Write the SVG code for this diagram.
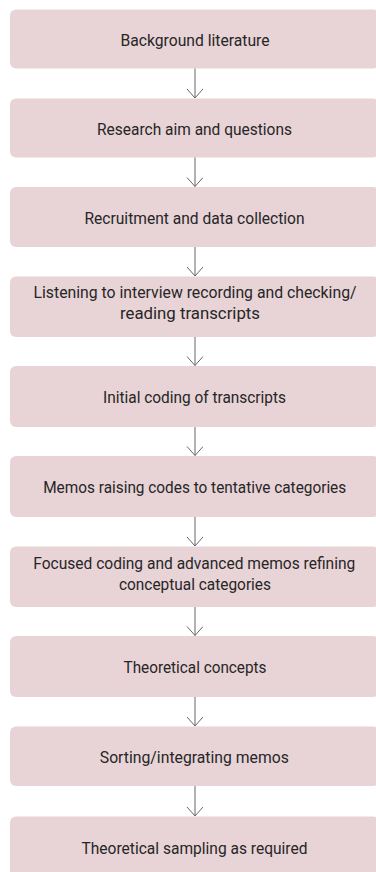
<svg xmlns="http://www.w3.org/2000/svg" width="376" height="872" viewBox="0 0 376 872">
<style>
.box{fill:#e8d3d6;}
.t{font-family:Roboto,"Liberation Sans",sans-serif;font-size:17px;fill:#262626;text-anchor:middle;}
.t.l{font-size:16px;}
.c{stroke:#666;stroke-width:1;fill:none;}
</style>
<defs>
<marker id="ah" markerWidth="20" markerHeight="20" refX="9.5" refY="8" orient="auto" markerUnits="userSpaceOnUse" viewBox="0 0 20 20">
<path d="M0.5,0 L9.5,8 L0.5,16" class="c"/>
</marker>
</defs>
<rect width="376" height="872" fill="#fff"/>
<g id="n1"><rect class="box" x="10" y="9.5" width="369" height="59" rx="6"/><text class="t" x="195" y="46" textLength="149" lengthAdjust="spacingAndGlyphs">Background literature</text></g>
<g id="n2"><rect class="box" x="10" y="98.5" width="369" height="59" rx="6"/><text class="t" x="194.5" y="135" textLength="195" lengthAdjust="spacingAndGlyphs">Research aim and questions</text></g>
<g id="n3"><rect class="box" x="10" y="187" width="369" height="60" rx="6"/><text class="t" x="194.5" y="223.7" textLength="220" lengthAdjust="spacingAndGlyphs">Recruitment and data collection</text></g>
<g id="n4"><rect class="box" x="10" y="276.5" width="369" height="60.5" rx="6"/><text class="t l" x="195" y="298.3" textLength="323" lengthAdjust="spacingAndGlyphs">Listening to interview recording and checking/</text><text class="t" x="190" y="319.3" textLength="140" lengthAdjust="spacingAndGlyphs">reading transcripts</text></g>
<g id="n5"><rect class="box" x="10" y="366" width="369" height="61" rx="6"/><text class="t" x="194.5" y="403.2" textLength="183" lengthAdjust="spacingAndGlyphs">Initial coding of transcripts</text></g>
<g id="n6"><rect class="box" x="10" y="456" width="369" height="61" rx="6"/><text class="t l" x="194.7" y="493.2" textLength="303" lengthAdjust="spacingAndGlyphs">Memos raising codes to tentative categories</text></g>
<g id="n7"><rect class="box" x="10" y="546.5" width="369" height="60.5" rx="6"/><text class="t l" x="194.3" y="568.5" textLength="322" lengthAdjust="spacingAndGlyphs">Focused coding and advanced memos refining</text><text class="t" x="195" y="589.5" textLength="152" lengthAdjust="spacingAndGlyphs">conceptual categories</text></g>
<g id="n8"><rect class="box" x="10" y="636" width="369" height="61" rx="6"/><text class="t" x="195" y="673.2" textLength="143" lengthAdjust="spacingAndGlyphs">Theoretical concepts</text></g>
<g id="n9"><rect class="box" x="10" y="726.5" width="369" height="59.5" rx="6"/><text class="t" x="194.3" y="763" textLength="189" lengthAdjust="spacingAndGlyphs">Sorting/integrating memos</text></g>
<g id="n10"><rect class="box" x="10" y="816.5" width="369" height="61" rx="6"/><text class="t" x="194.5" y="853.5" textLength="226" lengthAdjust="spacingAndGlyphs">Theoretical sampling as required</text></g>
<g id="connectors">
<path class="c" d="M195,68.5 V98" marker-end="url(#ah)"/>
<path class="c" d="M195,157.5 V186.5" marker-end="url(#ah)"/>
<path class="c" d="M195,247 V276" marker-end="url(#ah)"/>
<path class="c" d="M195,337 V365.5" marker-end="url(#ah)"/>
<path class="c" d="M195,427 V455.5" marker-end="url(#ah)"/>
<path class="c" d="M195,517 V546" marker-end="url(#ah)"/>
<path class="c" d="M195,607 V635.5" marker-end="url(#ah)"/>
<path class="c" d="M195,697 V726" marker-end="url(#ah)"/>
<path class="c" d="M195,786 V816" marker-end="url(#ah)"/>
</g>
</svg>
